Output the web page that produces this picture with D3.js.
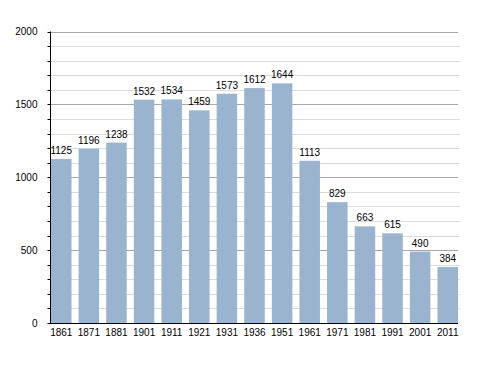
<!DOCTYPE html>
<html><head><meta charset="utf-8">
<script src="https://cdn.jsdelivr.net/npm/d3@7"></script>
<style>body{margin:0;background:#fff}svg{display:block}text{font-family:"Liberation Sans",Arial,sans-serif}</style>
</head><body><svg id="c" width="488" height="373"></svg>
<script>
const years = ["1861","1871","1881","1901","1911","1921","1931","1936","1951","1961","1971","1981","1991","2001","2011"];
const population = [1125,1196,1238,1532,1534,1459,1573,1612,1644,1113,829,663,615,490,384];
const yTicks = [0,500,1000,1500,2000];
const minorTicks = d3.range(100,2001,100);

const svg = d3.select("#c");
const L=50.5, R=458, T=31.5, B=323;
const x = d3.scaleBand().domain(years).range([51,458]).paddingInner(0.257).paddingOuter(0).align(0);
const y = d3.scaleLinear().domain([0,2000]).range([B,T]);

// minor grid
svg.append("g").selectAll("line").data(minorTicks.filter(d=>d%500)).join("line")
  .attr("x1",L).attr("x2",460).attr("y1",d=>Math.round(y(d))+0.5).attr("y2",d=>Math.round(y(d))+0.5)
  .attr("stroke","#dcdcdc").attr("stroke-width",1);
// major grid
svg.append("g").selectAll("line").data(yTicks.filter(d=>d>0)).join("line")
  .attr("x1",L).attr("x2",458).attr("y1",d=>Math.round(y(d))+0.5).attr("y2",d=>Math.round(y(d))+0.5)
  .attr("stroke","#a8a8a8").attr("stroke-width",1);

// bars
svg.append("g").selectAll("rect").data(population).join("rect")
  .attr("x",(d,i)=>x(years[i])).attr("width",x.bandwidth())
  .attr("y",d=>y(d)).attr("height",d=>B-y(d)).attr("fill","#9ab3cf");

// value labels
svg.append("g").selectAll("text").data(population).join("text")
  .attr("x",(d,i)=>x(years[i])+x.bandwidth()/2).attr("y",d=>y(d)-5)
  .attr("text-anchor","middle").attr("font-size",10).attr("fill","#000").text(d=>d);

// y axis
const yAxis = d3.axisLeft(y).tickValues(yTicks).tickFormat(d3.format("d")).tickSize(4).tickPadding(9);
const gy = svg.append("g").attr("transform",`translate(${L},0)`).call(yAxis);
gy.selectAll(".tick line").remove();
gy.select(".domain").remove();
gy.selectAll("text").attr("font-size",10).attr("fill","#000").style("font-family","Liberation Sans, Arial, sans-serif");
svg.append("g").selectAll("line").data(minorTicks.concat([0])).join("line")
  .attr("x1",L-3).attr("x2",L).attr("y1",d=>Math.round(y(d))+0.5).attr("y2",d=>Math.round(y(d))+0.5)
  .attr("stroke","#000");
svg.append("line").attr("x1",L).attr("x2",L).attr("y1",T).attr("y2",B).attr("stroke","#000");

// x axis
const xAxis = d3.axisBottom(x).tickSize(0).tickPadding(6);
const gx = svg.append("g").attr("transform",`translate(0,${B})`).call(xAxis);
gx.select(".domain").remove();
gx.selectAll("text").attr("font-size",10).attr("fill","#000").style("font-family","Liberation Sans, Arial, sans-serif");
svg.append("line").attr("x1",L-0.5).attr("x2",458).attr("y1",B+0.5).attr("y2",B+0.5).attr("stroke","#000");
</script></body></html>
